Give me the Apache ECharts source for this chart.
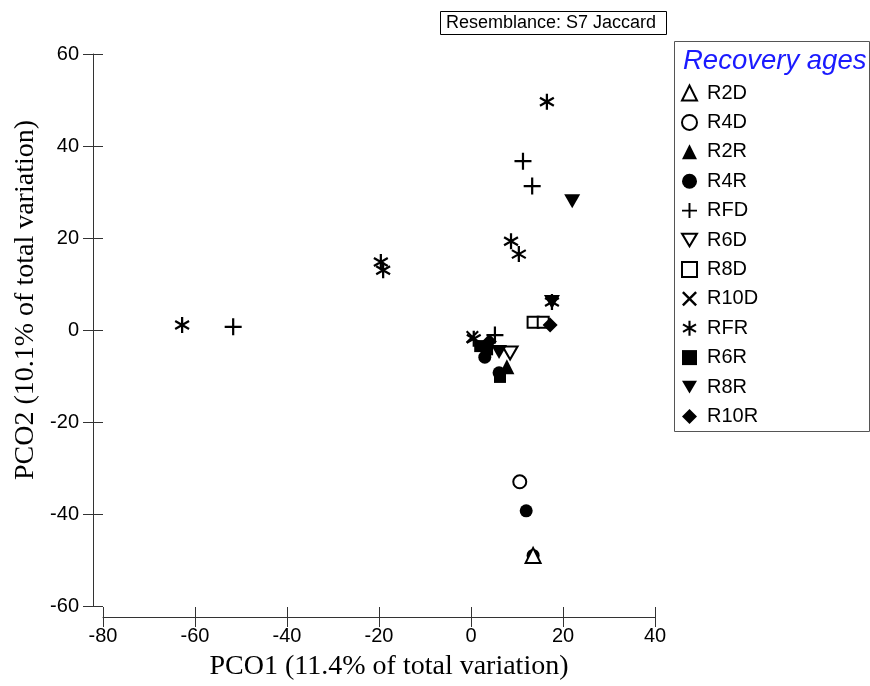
<!DOCTYPE html>
<html>
<head>
<meta charset="utf-8">
<script src="https://cdn.jsdelivr.net/npm/echarts@6/dist/echarts.min.js"></script>
<style>
  html, body { margin: 0; background: #fff; }
  #chart { width: 870px; height: 686px; }
</style>
</head>
<body>
<div id="chart"></div>
<script>
// PCO scores: [PCO1, PCO2]
const groups = ['R2D', 'R4D', 'R2R', 'R4R', 'RFD', 'R6D', 'R8D', 'R10D', 'RFR', 'R6R', 'R8R', 'R10R'];
const xTicks = [-80, -60, -40, -20, 0, 20, 40];
const yTicks = [-60, -40, -20, 0, 20, 40, 60];

const R2D = [[13.5, -49.0]];
const R4D = [[10.6, -33.0]];
const R2R = [[7.8, -8.0]];
const R4R = [[12.0, -39.3], [13.5, -49.0], [3.0, -5.9], [6.1, -9.3]];
const RFD = [[11.3, 36.7], [13.3, 31.3], [-51.7, 0.7], [5.2, -1.1]];
const R6D = [[8.5, -5.0]];
const R8D = [[13.5, 1.7], [15.7, 1.7]];
const R10D = [[0.3, -1.5]];
const RFR = [[16.5, 49.6], [8.7, 19.3], [10.4, 16.5], [-19.6, 14.8], [-19.1, 13.0], [-62.8, 1.1], [17.6, 6.1], [0.6, -1.9]];
const R6R = [[2.0, -3.5], [3.5, -4.2], [6.3, -10.2]];
const R8R = [[22.0, 28.0], [17.6, 6.1], [6.1, -4.8]];
const R10R = [[17.2, 1.1], [4.0, -2.5]];

// thin-bar glyphs (plus, cross, asterisk) as filled paths
function bars(angles, L, w) {
  return 'path://' + angles.map(a => {
    const r = a * Math.PI / 180, dx = Math.cos(r), dy = Math.sin(r), nx = -dy, ny = dx;
    const p = [[L*dx + w*nx, L*dy + w*ny], [-L*dx + w*nx, -L*dy + w*ny], [-L*dx - w*nx, -L*dy - w*ny], [L*dx - w*nx, L*dy - w*ny]];
    return 'M' + p.map(q => q[0].toFixed(2) + ',' + q[1].toFixed(2)).join(' L') + ' Z';
  }).join(' ');
}
const PLUS = bars([0, 90], 10, 1.3);
const CROSS = bars([45, 135], 10, 1.3);
const STAR = bars([90, 30, 150], 10, 1.4);
const DOWN = 'path://M0,0 L20,0 L10,17 Z';

const solid = { color: '#000', opacity: 1 };
const hollow = { color: '#fff', borderColor: '#000', borderWidth: 2, opacity: 1 };

const styles = {
  R2D:  { symbol: 'triangle', size: 15, itemStyle: hollow, z: 5 },
  R4D:  { symbol: 'circle', size: 13, itemStyle: hollow, z: 2 },
  R2R:  { symbol: 'triangle', size: 15, itemStyle: solid, z: 2 },
  R4R:  { symbol: 'circle', size: 13, itemStyle: solid, z: 2 },
  RFD:  { symbol: PLUS, size: 17, itemStyle: solid, z: 2 },
  R6D:  { symbol: DOWN, size: [15, 13], itemStyle: hollow, z: 2 },
  R8D:  { symbol: 'rect', size: 11, itemStyle: hollow, z: 2 },
  R10D: { symbol: CROSS, size: 13, itemStyle: solid, z: 2 },
  RFR:  { symbol: STAR, size: [15, 16], itemStyle: solid, z: 3 },
  R6R:  { symbol: 'rect', size: 12, itemStyle: solid, z: 2 },
  R8R:  { symbol: DOWN, size: [16, 14], itemStyle: solid, z: 2 },
  R10R: { symbol: 'diamond', size: 15, itemStyle: solid, z: 2 }
};
const dataByGroup = { R2D, R4D, R2R, R4R, RFD, R6D, R8D, R10D, RFR, R6R, R8R, R10R };

const tickFont = { fontFamily: 'Liberation Sans, Arial', fontSize: 20, color: '#000' };
const nameFontCss = '28px "Liberation Serif", "Times New Roman", serif';
const lineStyle = { color: '#333', width: 1 };

const chart = echarts.init(document.getElementById('chart'));
chart.setOption({
  animation: false,
  backgroundColor: '#fff',
  grid: { left: 103, right: 215, top: 54, bottom: 80, containLabel: false, outerBoundsMode: 'none' },
  xAxis: [
    { type: 'value', min: xTicks[0], max: xTicks[xTicks.length - 1], interval: 20, offset: 11, position: 'bottom',
      axisLine: { show: true, onZero: false, lineStyle }, axisTick: { show: true, length: 10, lineStyle },
      axisLabel: Object.assign({ margin: 9 }, tickFont), splitLine: { show: false } },
    { type: 'value', min: xTicks[0], max: xTicks[xTicks.length - 1], interval: 20, offset: 11, position: 'bottom',
      axisLine: { show: false, onZero: false }, axisTick: { show: true, inside: true, length: 10, lineStyle },
      axisLabel: { show: false }, splitLine: { show: false } }
  ],
  yAxis: [
    { type: 'value', min: yTicks[0], max: yTicks[yTicks.length - 1], interval: 20, offset: 10, position: 'left',
      axisLine: { show: true, onZero: false, lineStyle }, axisTick: { show: true, length: 10, lineStyle },
      axisLabel: Object.assign({ margin: 14 }, tickFont), splitLine: { show: false } },
    { type: 'value', min: yTicks[0], max: yTicks[yTicks.length - 1], interval: 20, offset: 10, position: 'left',
      axisLine: { show: false, onZero: false }, axisTick: { show: true, inside: true, length: 10, lineStyle },
      axisLabel: { show: false }, splitLine: { show: false } }
  ],
  legend: {
    data: groups, orient: 'vertical', left: 681, top: 83, padding: 0,
    itemWidth: 15, itemHeight: 15, itemGap: 9.4,
    textStyle: { fontFamily: 'Liberation Sans, Arial', fontSize: 20, color: '#000', padding: [0, 0, 0, 5] }
  },
  graphic: [
    { type: 'rect', shape: { x: 440.5, y: 11.5, width: 226, height: 23 }, style: { fill: '#fff', stroke: '#000', lineWidth: 1 } },
    { type: 'text', x: 446, y: 23, style: { text: 'Resemblance: S7 Jaccard', font: '18px "Liberation Sans", Arial', fill: '#000', verticalAlign: 'middle' } },
    { type: 'rect', shape: { x: 674.5, y: 41.5, width: 195, height: 390 }, style: { fill: 'none', stroke: '#555', lineWidth: 1 }, z: -1 },
    { type: 'text', x: 683, y: 61, style: { text: 'Recovery ages', font: 'italic 27.5px "Liberation Sans", Arial', fill: '#1a1aff', verticalAlign: 'middle' } },
    { type: 'text', x: 389, y: 667, style: { text: 'PCO1 (11.4% of total variation)', font: nameFontCss, fill: '#000', align: 'center', verticalAlign: 'middle' } },
    { type: 'text', x: 26, y: 300, rotation: Math.PI / 2, style: { text: 'PCO2 (10.1% of total variation)', font: nameFontCss, fill: '#000', align: 'center', verticalAlign: 'middle' } }
  ],
  series: groups.map(g => ({
    name: g, type: 'scatter', data: dataByGroup[g], z: styles[g].z,
    symbol: styles[g].symbol, symbolSize: styles[g].size, itemStyle: styles[g].itemStyle
  }))
});
</script>
</body>
</html>
